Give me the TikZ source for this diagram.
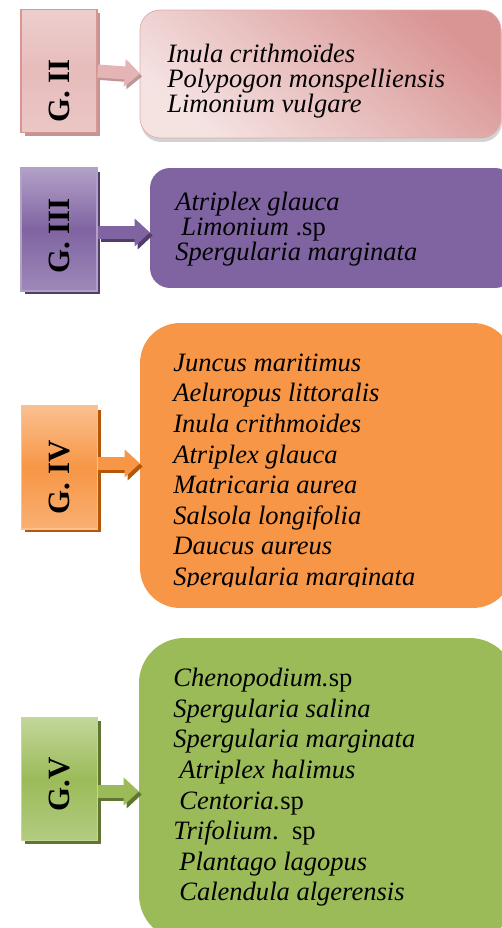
\documentclass[tikz,border=0pt]{standalone}
\usepackage{fontspec}
\setmainfont{Liberation Serif}
\usetikzlibrary{arrows.meta, positioning, shadows}
\definecolor{gtwo}{RGB}{217,149,148}
\definecolor{gtwolight}{RGB}{242,220,219}
\definecolor{gtwoshade}{RGB}{190,150,150}
\definecolor{gthree}{RGB}{128,100,162}
\definecolor{gthreelight}{RGB}{178,161,199}
\definecolor{gthreeshade}{RGB}{80,62,104}
\definecolor{gfour}{RGB}{247,150,70}
\definecolor{gfourlight}{RGB}{250,192,144}
\definecolor{gfourshade}{RGB}{182,87,8}
\definecolor{gfive}{RGB}{155,187,89}
\definecolor{gfivelight}{RGB}{195,214,155}
\definecolor{gfiveshade}{RGB}{95,117,48}
\tikzset{
  glabel/.style  = {rectangle, minimum width=1.52cm, minimum height=2.46cm,
                    inner sep=0pt, line width=0.8pt, draw=#1light,
                    top color=#1light, bottom color=#1light!60!#1, middle color=#1,
                    drop shadow={shadow xshift=0.07cm, shadow yshift=-0.07cm,
                                 opacity=1, fill=#1shade},
                    font=\fontsize{17.6}{20}\selectfont\bfseries},
  gbox/.style    = {rectangle, inner sep=0pt, draw=none},
  species/.style = {anchor=north west, inner sep=0pt, align=left,
                    font=\fontsize{15.1}{#1}\selectfont\itshape},
  garrow/.style  = {line width=0.26cm, -{Triangle[length=0.3cm, width=0.54cm]}},
}

\begin{document}
\begin{tikzpicture}[x=0.02cm, y=-0.02cm]
\useasboundingbox (0,0) rectangle (501,928);

% G. II
\node[gbox, minimum width=7.22cm, minimum height=2.56cm, rounded corners=0.4cm,
      draw=gtwo!80, top color=gtwo, bottom color=gtwolight!80!white, shading angle=-40,
      drop shadow={shadow xshift=0.02cm, shadow yshift=-0.08cm, opacity=0.35}]
      (b2) at (320.5,74) {};
\node[species=14.2pt] (t2) at (167,44)
  {Inula crithmoïdes\\ Polypogon monspelliensis\\ Limonium vulgare};
\node[glabel=gtwo, draw=gtwo, top color=gtwolight!80!gtwo, bottom color=gtwolight!70!gtwo,
      middle color=gtwolight!55!gtwo] (l2) at (59,71) {\rotatebox{90}{G. II\hspace{0.8cm}}};
\draw[garrow, gtwoshade, transform canvas={shift={(0.05cm,-0.05cm)}}] (l2.east) -- (b2.west);
\draw[garrow, gtwolight!45!gtwo] (l2.east) -- (b2.west);

% G. III
\node[gbox, minimum width=7.3cm, minimum height=2.4cm, rounded corners=0.4cm,
      fill=gthree] (b3) at (332.5,228) {};
\node[species=14.2pt] (t3) at (175,192)
  {Atriplex glauca\\ \hspace*{0.12cm}Limonium \textup{.sp}\\ Spergularia marginata};
\node[glabel=gthree] (l3) at (59,229.5) {\rotatebox{90}{G. III\hspace{0.26cm}}};
\draw[garrow, gthreeshade, transform canvas={shift={(0.06cm,-0.06cm)}}]
  ([yshift=-0.06cm]l3.east) -- ([yshift=-0.06cm]l3.east -| b3.west);
\draw[garrow, gthree] ([yshift=-0.06cm]l3.east) -- ([yshift=-0.06cm]l3.east -| b3.west);

% G. IV
\node[gbox, minimum width=7.46cm, minimum height=5.7cm, rounded corners=0.8cm,
      fill=gfour] (b4) at (326.5,465.5) {};
\begin{scope}
  \clip (0,0) rectangle (501,586);
  \node[species=17.4pt] (t4) at (173,353.5)
    {Juncus maritimus\\ Aeluropus littoralis\\ Inula crithmoides\\ Atriplex glauca\\
     Matricaria aurea\\ Salsola longifolia\\ Daucus aureus\\ Spergularia marginata};
\end{scope}
\node[glabel=gfour] (l4) at (59.5,467.5) {\rotatebox{90}{G. IV\hspace{0.4cm}}};
\draw[garrow, gfourshade, transform canvas={shift={(0.06cm,-0.06cm)}}]
  ([yshift=0.08cm]l4.east) -- ([yshift=0.08cm]l4.east -| b4.west);
\draw[garrow, gfour] ([yshift=0.08cm]l4.east) -- ([yshift=0.08cm]l4.east -| b4.west);

% G. V
\node[gbox, minimum width=7.52cm, minimum height=6.04cm, rounded corners=0.9cm,
      fill=gfive] (b5) at (327,789) {};
\node[species=17.4pt] (t5) at (173,668)
  {Chenopodium.\textup{sp}\\ Spergularia salina\\ Spergularia marginata\\
   \hspace*{0.12cm}Atriplex halimus\\ \hspace*{0.12cm}Centoria.\textup{sp}\\
   Trifolium\textup{.\ \ sp}\\ \hspace*{0.12cm}Plantago lagopus\\
   \hspace*{0.12cm}Calendula algerensis};
\node[glabel=gfive] (l5) at (59.5,779) {\rotatebox{90}{G.V\hspace{0.22cm}}};
\draw[garrow, gfiveshade, transform canvas={shift={(0.06cm,-0.06cm)}}]
  ([yshift=-0.25cm]l5.east) -- ([yshift=-0.25cm]l5.east -| b5.west);
\draw[garrow, gfive] ([yshift=-0.25cm]l5.east) -- ([yshift=-0.25cm]l5.east -| b5.west);

\end{tikzpicture}
\end{document}
